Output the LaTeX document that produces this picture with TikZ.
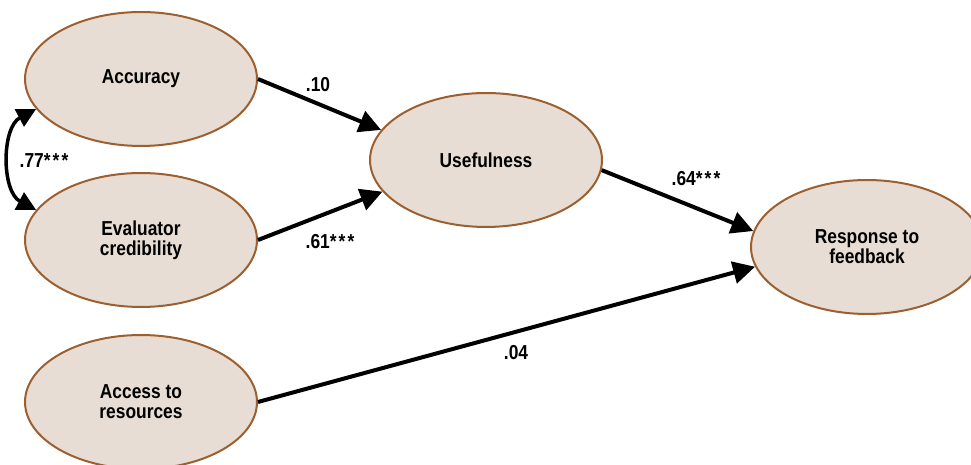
\documentclass[tikz,border=0pt]{standalone}
\usepackage{fontspec}
\setmainfont{Liberation Sans}[FakeStretch=0.86]
\usetikzlibrary{shapes.geometric}
\usetikzlibrary{arrows.meta}
\definecolor{latentfill}{HTML}{E8DDD4}
\definecolor{latentline}{HTML}{9C5F30}
\newcommand{\sigstars}{*\kern1.2pt*\kern1.2pt*}

\begin{document}
\begin{tikzpicture}[x=0.02cm,y=-0.02cm,
		latent/.style={ellipse,draw=latentline,fill=latentfill,line width=0.04cm,
			minimum width=4.64cm,minimum height=2.68cm,inner sep=0pt,align=center,
			font=\bfseries\fontsize{11.5}{11.3}\selectfont},
		effect/.style={line width=0.08cm,-{Triangle[length=0.44cm,width=0.44cm]}},
		cov/.style={line width=0.07cm,{Triangle[length=0.38cm,width=0.38cm]}-{Triangle[length=0.38cm,width=0.38cm]}},
		coef/.style={font=\bfseries\fontsize{11.5}{11.3}\selectfont}]
		\path[use as bounding box,clip] (0,0) rectangle (971,465);

		\node[latent](A) at (141,79){Accuracy};
		\node[latent](E) at (141,240){Evaluator\\credibility};
		\node[latent](R) at (141,402){Access to\\resources};

		\node[latent](U) at (486,160){Usefulness};

		\node[latent](F) at (867,247){Response to\\feedback};

		\draw[effect] (A.east) -- (U.164);
		\draw[effect] (E.east) -- (U.197);
		\draw[effect] (U.-5) -- (F.172);
		\draw[effect] (R.east) -- (F.190);
		\draw[cov] (A.196) to[bend right=62] (E.164);

		\node[coef](b1) at (318,85){.10};
		\node[coef](b2) at (330,242){.61\sigstars};
		\node[coef](b3) at (44,161){.77\sigstars};
		\node[coef](b4) at (696,179){.64\sigstars};
		\node[coef](b5) at (516,353){.04};
	\end{tikzpicture}
\end{document}
